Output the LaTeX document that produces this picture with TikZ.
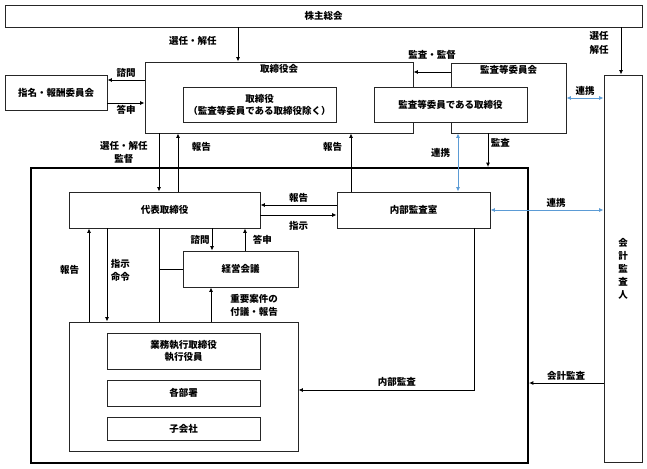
\documentclass[tikz,border=0pt]{standalone}
\usepackage{fontspec}
\setmainfont{Noto Sans CJK JP}
\usetikzlibrary{arrows.meta}
\definecolor{linkblue}{HTML}{5B9BD5}

\begin{document}
\begin{tikzpicture}[x=1pt,y=-1pt,>={Latex[length=4.5pt,width=4pt]},line width=0.9pt,
  font=\fontsize{9.5}{12}\selectfont\bfseries,
  box/.style={draw=black!85,inner sep=0pt,align=center},
  wbox/.style={box,fill=white},
  link/.style={<->,draw=linkblue},
  lbl/.style={inner sep=2pt,align=center,font=\fontsize{9.5}{13.5}\selectfont\bfseries}]
\useasboundingbox (0,0) rectangle (647,468);

  \node[box,minimum width=637pt,minimum height=22pt] (agm) at (323.5,16) {株主総会};
  \node[box,minimum width=268pt,minimum height=71pt,
        label={[lbl,anchor=north]north:取締役会}] (board) at (279,97.5) {};
  \node[box,minimum width=115pt,minimum height=70pt,
        label={[lbl,anchor=north]north:監査等委員会}] (acc) at (508.5,98) {};
  \node[wbox,minimum width=153pt,minimum height=35pt] (dirs) at (259.5,104.5) {取締役\\（監査等委員である取締役除く）};
  \node[wbox,minimum width=153pt,minimum height=35pt] (acd) at (450.5,104.5) {監査等委員である取締役};
  \node[box,minimum width=102pt,minimum height=35pt] (nrc) at (56,92.5) {指名・報酬委員会};
  \node[box,minimum width=38pt,minimum height=387pt,
        font=\fontsize{9.5}{13}\selectfont\bfseries] (audit) at (623,268.5) {会\\計\\監\\査\\人};

  \node[draw,line width=1.8pt,minimum width=497pt,minimum height=295pt] (group) at (279.5,315.5) {};
  \node[box,minimum width=191pt,minimum height=36pt] (ceo) at (164.5,210) {代表取締役};
  \node[box,minimum width=153pt,minimum height=36pt] (ia)  at (413.5,210) {内部監査室};
  \node[box,minimum width=115pt,minimum height=36pt] (mc)  at (240.5,269) {経営会議};
  \node[box,minimum width=229pt,minimum height=129pt] (exec) at (183.5,386.5) {};
  \node[box,minimum width=153pt,minimum height=36pt] (eo)   at (183.5,351) {業務執行取締役\\執行役員};
  \node[box,minimum width=153pt,minimum height=26pt] (dept) at (183.5,393) {各部署};
  \node[box,minimum width=153pt,minimum height=23pt] (sub)  at (183.5,428.5) {子会社};

  \draw[->] ([xshift=-41pt]board.north |- agm.south) -- node[lbl,pos=.4,left=19pt] {選任・解任} ([xshift=-41pt]board.north);
  \draw[->] ([xshift=-2pt]audit.north |- agm.south) -- node[lbl,pos=.33,left=10pt] {選任\\解任} ([xshift=-2pt]audit.north);
  \draw[->] ([yshift=17.5pt]board.west) -- node[lbl,above] {諮問} ([yshift=17.5pt]board.west -| nrc.east);
  \draw[->] ([yshift=-10.5pt]nrc.east) -- node[lbl,below] {答申} ([yshift=-10.5pt]nrc.east -| board.west);
  \draw[->] ([yshift=26pt]acc.west) -- node[lbl,above=10pt] {監査・監督} ([yshift=26pt]acc.west -| board.east);
  \draw[link] (acc.east) -- node[lbl,above,text=black] {連携} (acc.east -| audit.west);

  \draw[->] ([xshift=-5.5pt]ceo.north |- board.south) -- node[lbl,pos=.33,left=9pt] {選任・解任\\監督} ([xshift=-5.5pt]ceo.north);
  \draw[->] ([xshift=13.5pt]ceo.north) -- node[lbl,pos=.76,right=11.5pt] {報告} ([xshift=13.5pt]ceo.north |- board.south);
  \draw[->] ([xshift=-62.5pt]ia.north) -- node[lbl,pos=.76,left=6.5pt] {報告} ([xshift=-62.5pt]ia.north |- board.south);
  \draw[link] ([xshift=-50.5pt]acc.south) -- node[lbl,pos=.34,left=5.5pt,text=black] {連携} ([xshift=-50.5pt]acc.south |- ia.north);
  \draw[->] ([xshift=-20.5pt]acc.south) -- node[lbl,pos=.29,right=0.5pt] {監査} ([xshift=-20.5pt]acc.south |- group.north);
  \draw[link] (ia.east) -- node[lbl,pos=.58,above,text=black] {連携} (ia.east -| audit.west);

  \draw[->] ([yshift=5pt]ia.west) -- node[lbl,above] {報告} ([yshift=5pt]ia.west -| ceo.east);
  \draw[->] ([yshift=-5pt]ceo.east) -- node[lbl,below=4pt] {指示} ([yshift=-5pt]ceo.east -| ia.west);
  \draw[->] ([xshift=47.5pt]ceo.south) -- node[lbl,left] {諮問} ([xshift=47.5pt]ceo.south |- mc.north);
  \draw[->] ([xshift=4.5pt]mc.north) -- node[lbl,right=5.5pt] {答申} ([xshift=4.5pt]mc.north |- ceo.south);
  \draw ([xshift=-5.5pt]ceo.south) -- ([xshift=-5.5pt]ceo.south |- exec.north);
  \draw ([xshift=-5.5pt]ceo.south |- mc.west) -- (mc.west);

  \draw[->] ([xshift=-94.5pt]exec.north) -- node[lbl,pos=.55,left=7.5pt] {報告} ([xshift=-94.5pt]exec.north |- ceo.south);
  \draw[->] ([xshift=-57.5pt]ceo.south) -- node[lbl,pos=.45,right=1.5pt] {指示\\命令} ([xshift=-57.5pt]ceo.south |- exec.north);
  \draw[->] ([xshift=27.5pt]exec.north) -- node[lbl,pos=.47,right=17pt] {重要案件の\\付議・報告} ([xshift=27.5pt]exec.north |- mc.south);
  \draw[->] ([xshift=60.5pt]ia.south) |- node[lbl,pos=.72,above=1pt] {内部監査} ([yshift=-3.5pt]exec.east);
  \draw[->] ([yshift=-114.5pt]audit.west) -- node[lbl,above] {会計監査} ([yshift=-114.5pt]audit.west -| group.east);
\end{tikzpicture}
\end{document}
